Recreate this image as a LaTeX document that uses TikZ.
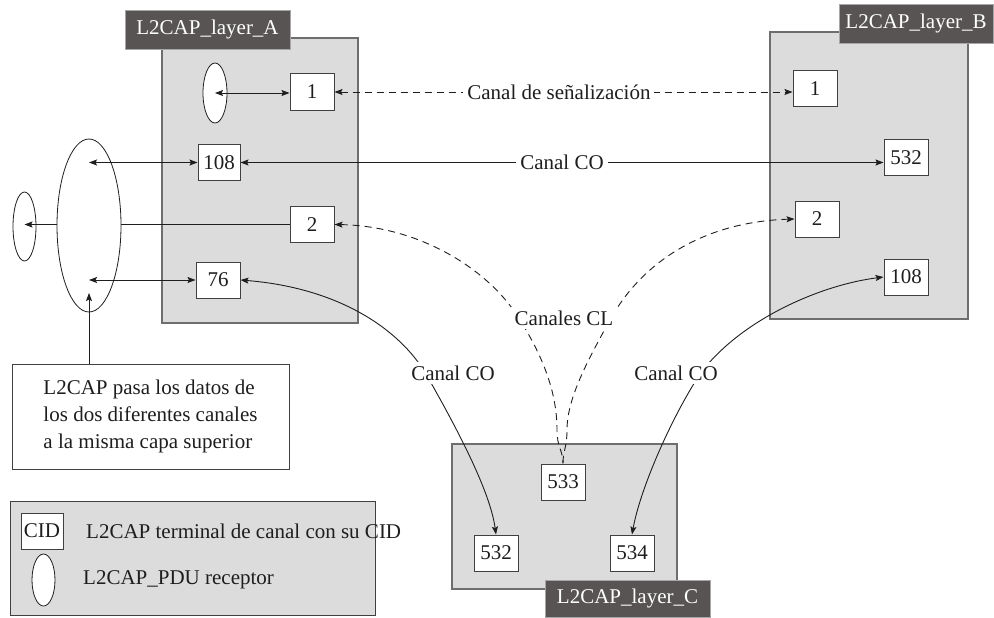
\documentclass[tikz,border=0pt]{standalone}
\usepackage{fontspec}
\setmainfont{Liberation Serif}
\usetikzlibrary{shapes.geometric,arrows.meta}

\definecolor{layerfill}{HTML}{DCDCDC}
\definecolor{layeredge}{HTML}{6E6E6E}
\definecolor{tagfill}{HTML}{585454}
\definecolor{ink}{HTML}{1E1E1E}

\begin{document}
\begin{tikzpicture}[x=1pt,y=-1pt,
  every node/.style={font=\fontsize{21}{27}\selectfont, text=ink},
  >={Stealth[length=8pt,width=6pt,inset=1.5pt]},
  layer/.style={draw=layeredge, line width=1.5pt, fill=layerfill, inner sep=0pt},
  tag/.style={draw=gray!70, line width=0.8pt, fill=tagfill, text=white, inner sep=0pt},
  cid/.style={draw=ink!85, line width=1pt, fill=white, minimum width=44pt, minimum height=36pt, inner sep=0pt},
  pdu/.style={ellipse, draw=ink, line width=0.8pt, fill=white, inner sep=0pt},
  link/.style={draw=ink, line width=0.9pt},
  dashline/.style={dash pattern=on 7pt off 5pt},
  chan/.style={fill=white, inner sep=4pt},
  plain/.style={inner sep=0pt, anchor=west},
]
\useasboundingbox (0,0) rectangle (994,618);

% protocol layers
\node[layer, minimum width=196pt, minimum height=285pt] (layA) at (260,180.5) {};
\node[layer, minimum width=198pt, minimum height=287pt] (layB) at (869,175.5) {};
\node[layer, minimum width=225pt, minimum height=145pt] (layC) at (564.5,516.5) {};
\node[tag, minimum width=165pt, minimum height=39pt] (tagA) at (207.5,29.5) {L2CAP\_layer\_A};
\node[tag, minimum width=154pt, minimum height=39pt] (tagB) at (916,23.5) {L2CAP\_layer\_B};
\node[tag, minimum width=165pt, minimum height=37pt] (tagC) at (627.5,598.5) {L2CAP\_layer\_C};

% legend
\node[draw=ink!85, line width=1pt, fill=layerfill, minimum width=365pt, minimum height=114pt] (legend) at (192.5,558) {};
\node[cid, minimum width=42pt] (legcid) at (42,531) {CID};
\node[plain] (legtxtA) at (86,531) {L2CAP terminal de canal con su CID};
\node[pdu, minimum width=23pt, minimum height=52pt] (legpdu) at (43.5,580) {};
\node[plain] (legtxtB) at (83,580) {L2CAP\_PDU receptor};

% note on the shared upper layer
\node[draw=ink!85, line width=1pt, fill=white, minimum width=277pt, minimum height=105pt, align=left] (note) at (150.5,416.5)
  {L2CAP pasa los datos de\\los dos diferentes canales\\a la misma capa superior};

% receivers
\node[pdu, minimum width=24pt, minimum height=60pt] (pduA) at (215,93) {};
\node[pdu, minimum width=64pt, minimum height=173pt] (big) at (89,225.5) {};
\node[pdu, minimum width=23pt, minimum height=69pt] (upper) at (24.5,226.5) {};
\coordinate (uptip) at (89,293);

% channel end points
\node[cid] (c1a) at (312,92) {1};
\node[cid, minimum width=42pt] (c108a) at (219,162.5) {108};
\node[cid] (c2a) at (312,224.5) {2};
\node[cid] (c76a) at (218,280) {76};
\node[cid] (c1b) at (815,89) {1};
\node[cid] (c532b) at (906,157.5) {532};
\node[cid] (c2b) at (817,219) {2};
\node[cid] (c108b) at (906,277) {108};
\node[cid] (c533) at (563,482) {533};
\node[cid] (c532c) at (496,553) {532};
\node[cid] (c534) at (632,553) {534};

% local connections in layer A
\draw[link,<->] (pduA.center) -- (pduA.center -| c1a.west);
\draw[link,<->] (big.center |- c108a.west) -- (c108a.west);
\draw[link,<->] (big.center |- c76a.west) -- (c76a.west);
\draw[link] (c2a.west) -- (c2a.west -| big.east);
\draw[link,->] (c2a.west -| big.west) -- (c2a.west -| upper.center);
\draw[link,->] (note.north -| big.center) -- (uptip);

% straight channels
\draw[link,dashline,<->] (c1a.east) -- node[chan,pos=0.49] (sig) {Canal de señalización} (c1a.east -| c1b.west);
\draw[link,<->] (c108a.east) -- node[chan] (coTop) {Canal CO} (c108a.east -| c532b.west);

% connectionless channels
\draw[link,dashline,<-] (c2a.east) .. controls (420,226) and (490,270) .. (520,320)
  .. controls (545,360) and (557,395) .. (557,430)
  .. controls (557,448) and (563,450) .. (c533.north);
\draw[link,dashline,<-] (c2b.west) .. controls (700,222) and (640,265) .. (610,320)
  .. controls (585,365) and (567,400) .. (567,430)
  .. controls (567,448) and (563,450) .. (c533.north);

% connection-oriented channels to layer C
\draw[link,<->] (c76a.east) .. controls (340,288) and (400,330) .. (426,374)
  .. controls (455,425) and (490,490) .. (c532c.north);
\draw[link,<->] (c534.north) .. controls (640,490) and (670,420) .. (700,374)
  .. controls (740,320) and (820,285) .. (c108b.west);

% channel labels
\node[chan] (cl) at (564,318) {Canales CL};
\node[chan] (coL) at (453,373) {Canal CO};
\node[chan] (coR) at (676,373) {Canal CO};
\end{tikzpicture}
\end{document}
